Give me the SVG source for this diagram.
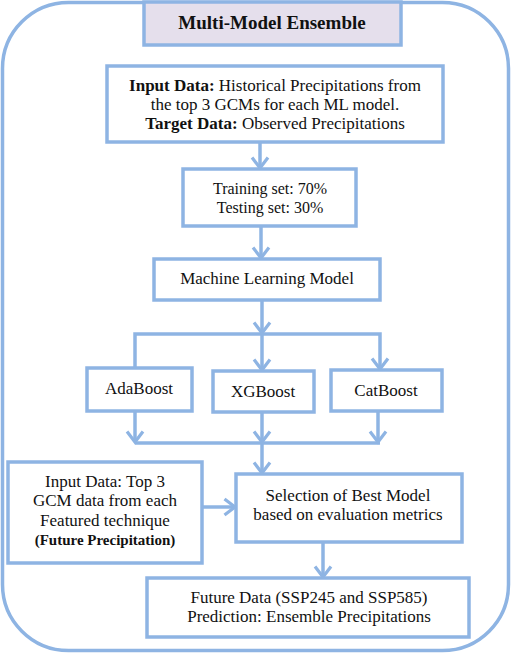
<svg xmlns="http://www.w3.org/2000/svg" width="512" height="654" viewBox="0 0 512 654">
<style>
.bx{fill:#fff;stroke:#8EB4E3;stroke-width:3.5}
.ln{fill:none;stroke:#8EB4E3;stroke-width:3.5}
text{font-family:"Liberation Serif","Times New Roman",serif;font-size:17px;fill:#111;text-anchor:middle}
.b{font-weight:bold}
</style>
<defs>
<marker id="ah" viewBox="-2 -2 15 20" refX="10.5" refY="8" markerWidth="15" markerHeight="20" markerUnits="userSpaceOnUse" orient="auto">
<path d="M0,0 L10.5,8 L0,16" fill="none" stroke="#8EB4E3" stroke-width="3.2"/>
</marker>
</defs>
<rect x="2.5" y="2.5" width="506" height="648" rx="66" ry="66" fill="#fff" stroke="#8EB4E3" stroke-width="3.5"/>
<g id="connectors">
<line class="ln" x1="260" y1="142" x2="260" y2="168" marker-end="url(#ah)"/>
<line class="ln" x1="261" y1="226" x2="261" y2="258" marker-end="url(#ah)"/>
<line class="ln" x1="262" y1="300" x2="262" y2="333" marker-end="url(#ah)"/>
<polyline class="ln" points="135,367 135,334 380,334 380,369" marker-end="url(#ah)"/>
<line class="ln" x1="262" y1="334" x2="262" y2="370" marker-end="url(#ah)"/>
<line class="ln" x1="135" y1="411" x2="135" y2="442" marker-end="url(#ah)"/>
<line class="ln" x1="262" y1="412" x2="262" y2="442" marker-end="url(#ah)"/>
<line class="ln" x1="378" y1="411" x2="378" y2="442" marker-end="url(#ah)"/>
<line class="ln" x1="135" y1="443" x2="380" y2="443"/>
<line class="ln" x1="262" y1="443" x2="262" y2="473" marker-end="url(#ah)"/>
<line class="ln" x1="202" y1="507" x2="235" y2="507" marker-end="url(#ah)"/>
<line class="ln" x1="323" y1="542" x2="323" y2="577" marker-end="url(#ah)"/>
</g>
<g id="title">
<rect x="144" y="2" width="257" height="43" fill="#E5DFEC" stroke="#8EB4E3" stroke-width="3.5"/>
<text x="272" y="29" class="b" style="font-size:19px">Multi-Model Ensemble</text>
</g>
<g id="input">
<rect class="bx" x="107" y="66" width="336" height="76"/>
<text x="275" y="91"><tspan class="b">Input Data:</tspan> Historical Precipitations from</text>
<text x="275" y="110">the top 3 GCMs for each ML model.</text>
<text x="275" y="129"><tspan class="b">Target Data:</tspan> Observed Precipitations</text>
</g>
<g id="split">
<rect class="bx" x="183" y="169" width="173" height="57"/>
<text x="270" y="194" style="font-size:16px">Training set: 70%</text>
<text x="270" y="213" style="font-size:16px">Testing set: 30%</text>
</g>
<g id="ml">
<rect class="bx" x="154" y="259" width="226" height="41"/>
<text x="267" y="284">Machine Learning Model</text>
</g>
<g id="adaboost">
<rect class="bx" x="87" y="368" width="105" height="43"/>
<text x="139" y="394">AdaBoost</text>
</g>
<g id="xgboost">
<rect class="bx" x="213" y="371" width="101" height="41"/>
<text x="263" y="397">XGBoost</text>
</g>
<g id="catboost">
<rect class="bx" x="331" y="370" width="111" height="41"/>
<text x="386" y="396">CatBoost</text>
</g>
<g id="future-input">
<rect class="bx" x="8" y="462" width="194" height="101"/>
<text x="105" y="487">Input Data: Top 3</text>
<text x="105" y="506">GCM data from each</text>
<text x="105" y="526">Featured technique</text>
<text x="105" y="545" class="b" style="font-size:15px">(Future Precipitation)</text>
</g>
<g id="selection">
<rect class="bx" x="236" y="474" width="226" height="68"/>
<text x="348" y="501">Selection of Best Model</text>
<text x="348" y="520">based on evaluation metrics</text>
</g>
<g id="output">
<rect class="bx" x="147" y="578" width="322" height="59"/>
<text x="309" y="603">Future Data (SSP245 and SSP585)</text>
<text x="309" y="622">Prediction: Ensemble Precipitations</text>
</g>
</svg>
